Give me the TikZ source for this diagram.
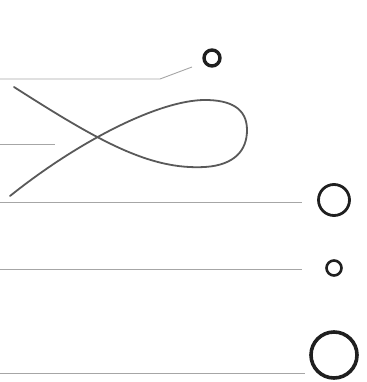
\documentclass[tikz,border=0pt]{standalone}
\begin{document}
\begin{tikzpicture}[x=1pt,y=-1pt,
  leader/.style={draw=black!35, line width=0.9pt},
  ring/.style={circle, draw=black!88, inner sep=0pt, minimum size=#1},
  curvestyle/.style={draw=black!65, line width=1.8pt, line cap=round}]
\useasboundingbox (0,0) rectangle (366,382);
% rings
\node[ring=16pt, line width=3.4pt] (c1) at (212,58) {};
\node[ring=31pt, line width=2.8pt] (c2) at (334,200) {};
\node[ring=15pt, line width=2.6pt] (c3) at (334,268) {};
\node[ring=46pt, line width=3.6pt] (c4) at (334,355) {};
% leader lines
\coordinate (l1a) at (0,79);
\coordinate (l1b) at (160,79);
\coordinate (l1c) at (192,67);
\draw[leader] (l1a) -- (l1b) -- (l1c);
\coordinate (l2a) at (0,144);
\coordinate (l2b) at (55,144);
\draw[leader] (l2a) -- (l2b);
\coordinate (l3a) at (0,202);
\coordinate (l3b) at (302,202);
\draw[leader] (l3a) -- (l3b);
\coordinate (l4a) at (0,269);
\coordinate (l4b) at (302,269);
\draw[leader] (l4a) -- (l4b);
\coordinate (l5a) at (0,373);
\coordinate (l5b) at (305,373);
\draw[leader] (l5a) -- (l5b);
% loop curve
\coordinate (p0) at (14,87);
\coordinate (p1) at (205,167);
\coordinate (p2) at (247,130);
\coordinate (p3) at (205,100);
\coordinate (p4) at (10,196);
\draw[curvestyle] (p0) .. controls (100,142) and (150,170) .. (p1)
  .. controls (235,165) and (247,150) .. (p2)
  .. controls (247,108) and (230,100) .. (p3)
  .. controls (160,100) and (80,140) .. (p4);
\end{tikzpicture}
\end{document}
